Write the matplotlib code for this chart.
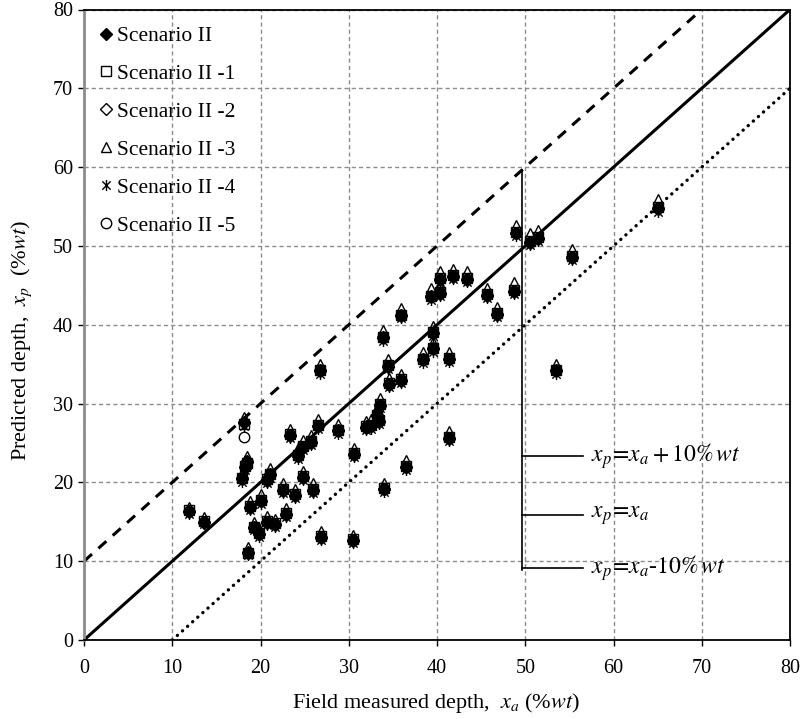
import matplotlib
matplotlib.use("Agg")
import matplotlib.pyplot as plt
from matplotlib.path import Path

# ---------------- data ----------------
field_depth = [11.9, 13.6, 18.1, 17.9, 18.2, 18.5, 18.8, 18.6, 19.3, 19.8, 20.0, 20.7, 21.1, 20.7, 21.6,
               22.6, 23.9, 22.9, 23.3, 24.3, 24.8, 25.7, 24.8, 25.9, 26.5, 26.9, 26.7, 28.8, 30.6, 30.5,
               31.9, 32.5, 33.2, 33.5, 33.4, 34.0, 34.6, 33.9, 34.5, 35.9, 35.9, 36.5, 38.4, 39.5, 39.6,
               39.3, 40.3, 40.3, 41.4, 41.4, 41.8, 43.4, 45.7, 46.8, 48.7, 48.9, 50.5, 51.4, 53.5, 55.3, 65.0]

scenario_II = [16.4, 15.0, 27.5, 20.5, 22.0, 22.6, 16.9, 11.1, 14.3, 13.5, 17.7, 20.3, 21.0, 15.0, 14.7,
               19.0, 18.4, 16.0, 26.0, 23.4, 24.5, 25.1, 20.7, 19.0, 27.2, 13.1, 34.2, 26.6, 23.6, 12.7,
               27.0, 27.2, 28.5, 29.8, 27.8, 19.2, 32.5, 38.4, 34.8, 33.0, 41.2, 22.0, 35.6, 39.0, 37.0,
               43.6, 45.8, 44.0, 35.7, 25.6, 46.2, 45.8, 43.8, 41.4, 44.3, 51.7, 50.5, 51.0, 34.2, 48.6, 54.8]
scenario_II_1 = [16.5, 15.1, 27.4, 20.6, 22.1, 22.5, 17.0, 11.0, 14.4, 13.6, 17.8, 20.4, 21.1, 15.1, 14.8,
                 19.1, 18.5, 16.1, 26.1, 23.5, 24.6, 25.2, 20.8, 19.1, 27.3, 13.2, 34.3, 26.7, 23.7, 12.8,
                 27.1, 27.3, 28.6, 29.9, 27.9, 19.3, 32.6, 38.5, 34.9, 33.1, 41.3, 22.1, 35.7, 39.1, 37.1,
                 43.7, 45.9, 44.1, 35.8, 25.7, 46.3, 45.9, 43.9, 41.5, 44.4, 51.8, 50.6, 51.1, 34.3, 48.7, 54.9]
scenario_II_2 = [16.3, 14.9, 27.6, 20.4, 21.9, 22.7, 16.8, 11.2, 14.2, 13.4, 17.6, 20.2, 20.9, 14.9, 14.6,
                 18.9, 18.3, 15.9, 25.9, 23.3, 24.4, 25.0, 20.6, 18.9, 27.1, 13.0, 34.1, 26.5, 23.5, 12.6,
                 26.9, 27.1, 28.4, 29.7, 27.7, 19.1, 32.4, 38.3, 34.7, 32.9, 41.1, 21.9, 35.5, 38.9, 36.9,
                 43.5, 45.7, 43.9, 35.6, 25.5, 46.1, 45.7, 43.7, 41.3, 44.2, 51.6, 50.4, 50.9, 34.1, 48.5, 54.7]
scenario_II_3 = [16.9, 15.6, 28.3, 21.2, 22.8, 23.4, 17.6, 11.8, 15.0, 14.2, 18.5, 21.1, 21.8, 15.7, 15.4,
                 19.9, 19.1, 16.7, 26.8, 24.3, 25.4, 26.0, 21.5, 19.9, 28.1, 13.8, 35.0, 27.4, 24.4, 13.3,
                 27.8, 28.0, 29.4, 30.7, 28.6, 19.9, 33.3, 39.3, 35.7, 33.8, 42.1, 22.8, 36.5, 39.9, 37.8,
                 44.6, 46.8, 44.9, 36.5, 26.5, 47.1, 46.8, 44.7, 42.3, 45.4, 52.6, 51.6, 52.0, 35.0, 49.6, 55.9]
scenario_II_4 = [16.0, 14.7, 27.2, 20.1, 21.6, 22.2, 16.5, 10.8, 13.9, 13.1, 17.3, 19.9, 20.6, 14.6, 14.3,
                 18.6, 18.0, 15.6, 25.6, 23.0, 24.1, 24.7, 20.3, 18.6, 26.8, 12.7, 33.8, 26.2, 23.2, 12.3,
                 26.6, 26.8, 28.1, 29.4, 27.4, 18.8, 32.1, 38.0, 34.4, 32.6, 40.8, 21.6, 35.2, 38.6, 36.6,
                 43.2, 45.4, 43.6, 35.3, 25.2, 45.8, 45.4, 43.4, 41.0, 43.9, 51.3, 50.1, 50.6, 33.8, 48.2, 54.3]
scenario_II_5 = [16.4, 15.0, 25.8, 20.5, 22.0, 22.6, 16.9, 11.1, 14.3, 13.5, 17.7, 20.3, 21.0, 15.0, 14.7,
                 19.0, 18.4, 16.0, 26.0, 23.4, 24.5, 25.1, 20.7, 19.0, 27.2, 13.1, 34.2, 26.6, 23.6, 12.7,
                 27.0, 27.2, 28.5, 29.8, 27.8, 19.2, 32.5, 38.4, 34.8, 33.0, 41.2, 22.0, 35.6, 39.0, 37.0,
                 43.6, 45.8, 44.0, 35.7, 25.6, 46.2, 45.8, 43.8, 41.4, 44.3, 51.7, 50.5, 51.0, 34.2, 48.6, 54.8]

series_labels = ["Scenario II", "Scenario II -1", "Scenario II -2", "Scenario II -3",
                 "Scenario II -4", "Scenario II -5"]
ticks = [0, 10, 20, 30, 40, 50, 60, 70, 80]
guide_labels = [r"$x_p\!=\!x_a + 10\%\,wt$", r"$x_p\!=\!x_a$", r"$x_p\!=\!x_a$-$10\%\,wt$"]

# ---------------- style ----------------
plt.rcParams["font.family"] = ["Liberation Serif", "DejaVu Serif"]
plt.rcParams["mathtext.fontset"] = "stix"

W, H = 805, 719
L, R, T, B = 84, 790, 9.5, 640
fig = plt.figure(figsize=(W / 100, H / 100), dpi=100)
ax = fig.add_axes([L / W, 1 - B / H, (R - L) / W, (B - T) / H])

ax.set_xlim(0, 80)
ax.set_ylim(0, 80)
ax.set_xticks(ticks)
ax.set_yticks(ticks)
ax.tick_params(labelsize=14.5, length=4, width=1, direction="out", colors="black")
ax.tick_params(axis="x", pad=9.5)
ax.tick_params(axis="y", pad=4)
ax.grid(True, color="#8c8c8c", linestyle=(0, (3, 2.2)), linewidth=1.0)
ax.set_axisbelow(True)
for sp in ax.spines.values():
    sp.set_color("black")
    sp.set_linewidth(1.3)
ax.spines["left"].set_color("#8c8c8c")
ax.spines["left"].set_linewidth(2)

# reference lines
ax.plot([0, 70], [10, 80], color="black", lw=2.2, linestyle=(0, (3.5, 2.8)), zorder=2)
ax.plot([0, 80], [0, 80], color="black", lw=2.2, zorder=2)
ax.plot([10, 80], [0, 70], color="black", lw=2.4, linestyle=(0, (0.05, 2.0)),
        dash_capstyle="round", zorder=2)

# bracket legend for guide lines
ax.plot([49.6, 49.6], [59.6, 8.9], color="black", lw=1.2, zorder=3)
for yy, lab in zip([23.3, 15.8, 9.1], guide_labels):
    ax.plot([49.6, 56.5], [yy, yy], color="black", lw=1.2, zorder=3)
    ax.text(57.4, yy, lab, fontsize=17, va="center", ha="left", zorder=4)

# markers
asterisk = Path([(0, -1), (0, 1), (-0.75, -0.75), (0.75, 0.75), (-0.75, 0.75), (0.75, -0.75)],
                [Path.MOVETO, Path.LINETO, Path.MOVETO, Path.LINETO, Path.MOVETO, Path.LINETO])

series = [scenario_II, scenario_II_1, scenario_II_2, scenario_II_3, scenario_II_4, scenario_II_5]
styles = [dict(marker="D", ms=5.8, mfc="black", mec="black"),
          dict(marker="s", ms=7.5, mfc="none", mec="black", mew=1.0),
          dict(marker="D", ms=5.8, mfc="none", mec="black", mew=1.0),
          dict(marker="^", ms=7.5, mfc="none", mec="black", mew=1.0),
          dict(marker=asterisk, ms=8, mfc="none", mec="black", mew=1.0),
          dict(marker="o", ms=7.5, mfc="none", mec="black", mew=1.0)]
for ys, lab, st in zip(series, series_labels, styles):
    ax.plot(field_depth, ys, linestyle="none", label=lab, zorder=5, **st)

leg = ax.legend(loc="upper left", frameon=False, fontsize=15.5, handlelength=0.8,
                handletextpad=0.12, labelspacing=0.83, borderpad=0, borderaxespad=0,
                bbox_to_anchor=((97 - L) / (R - L), 1 - (26 - T) / (B - T)))

ax.set_xlabel(r"Field measured depth,  $x_a$ (%$wt$)", fontsize=16)
ax.xaxis.set_label_coords(((292 + 580) / 2 - L) / (R - L), (B - 691) / (B - T))
ax.set_ylabel(r"Predicted depth,  $x_p$  (%$wt$)", fontsize=16, va="center")
ax.yaxis.set_label_coords((22 - L) / (R - L), (B - 340) / (B - T))

fig.savefig("out.png", dpi=100)
